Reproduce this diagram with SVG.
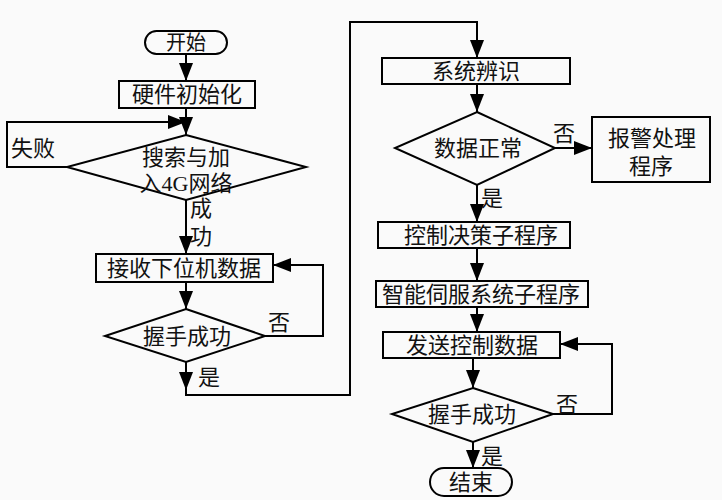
<svg xmlns="http://www.w3.org/2000/svg" width="722" height="500" viewBox="0 0 722 500">
<defs>
<style>
.s{fill:none;stroke:#000;stroke-width:2}
.b{fill:#fafafa;stroke:#000;stroke-width:2}
.t{font-family:"Liberation Serif","Noto Sans CJK SC",serif;font-size:22px;fill:#111;text-anchor:middle;dominant-baseline:central}
.c{stroke:#000;stroke-width:2;fill:none;marker-end:url(#arr)}
</style>
<marker id="arr" viewBox="0 0 18 14" refX="18" refY="7" markerWidth="18" markerHeight="14" orient="auto" markerUnits="userSpaceOnUse"><path d="M0,0 L18,7 L0,14 z" fill="#000"/></marker>
</defs>
<rect width="722" height="500" fill="#fafafa"/>
<g id="connectors">
<path class="c" d="M186,53 V81"/>
<path class="c" d="M186,108 V135"/>
<path class="c" d="M67,167 H7 V122 H186"/>
<path class="c" d="M186,200 V254"/>
<path class="c" d="M186,282 V309"/>
<path class="c" d="M265,336 H323 V265 H273"/>
<path class="c" d="M186,362 V390"/>
<path class="c" d="M186,388 V395 H350 V22 H477 V58"/>
<path class="c" d="M477,84 V112"/>
<path class="c" d="M555,148 H592"/>
<path class="c" d="M477,185 V222"/>
<path class="c" d="M477,248 V281"/>
<path class="c" d="M477,307 V332"/>
<path class="c" d="M473,358 V388"/>
<path class="c" d="M553,414 H612 V344 H560"/>
<path class="c" d="M473,442 V468"/>
</g>
<g id="start"><rect class="b" x="145" y="31" width="82" height="23" rx="11.5"/><text class="t" x="186" y="42.5" style="font-size:20px">开始</text></g>
<g id="init"><rect class="b" x="119" y="81" width="136" height="27"/><text class="t" x="187" y="94.5">硬件初始化</text></g>
<g id="search"><path class="b" d="M186,135 L306,167 L186,200 L67,167 Z"/><text class="t" x="186" y="157">搜索与加</text><text class="t" x="186" y="183">入4G网络</text></g>
<g id="lbl-fail"><text class="t" x="33" y="148">失败</text></g>
<g id="lbl-succ"><text class="t" x="201" y="208">成</text><text class="t" x="201" y="236">功</text></g>
<g id="recv"><rect class="b" x="96" y="254" width="177" height="28"/><text class="t" x="184" y="268">接收下位机数据</text></g>
<g id="hs1"><path class="b" d="M186,309 L265,336 L186,362 L105,336 Z"/><text class="t" x="187" y="336">握手成功</text></g>
<g id="lbl-no1"><text class="t" x="279" y="322">否</text></g>
<g id="lbl-yes1"><text class="t" x="209" y="377">是</text></g>
<g id="ident"><rect class="b" x="382" y="58" width="188" height="26"/><text class="t" x="476" y="71">系统辨识</text></g>
<g id="dataok"><path class="b" d="M477,112 L555,148 L477,185 L395,148 Z"/><text class="t" x="478" y="148">数据正常</text></g>
<g id="lbl-no2"><text class="t" x="564" y="133">否</text></g>
<g id="alarm"><rect class="b" x="592" y="117" width="118" height="65"/><text class="t" x="652" y="138">报警处理</text><text class="t" x="651" y="166">程序</text></g>
<g id="lbl-yes2"><text class="t" x="492" y="198">是</text></g>
<g id="ctrl"><rect class="b" x="378" y="222" width="192" height="26"/><text class="t" x="481" y="235">控制决策子程序</text></g>
<g id="servo"><rect class="b" x="376" y="281" width="212" height="26"/><text class="t" x="481" y="294">智能伺服系统子程序</text></g>
<g id="send"><rect class="b" x="383" y="332" width="177" height="26"/><text class="t" x="472" y="345">发送控制数据</text></g>
<g id="hs2"><path class="b" d="M473,388 L553,414 L473,442 L392,414 Z"/><text class="t" x="472" y="414">握手成功</text></g>
<g id="lbl-no3"><text class="t" x="567" y="404">否</text></g>
<g id="lbl-yes3"><text class="t" x="492" y="456">是</text></g>
<g id="end"><rect class="b" x="430" y="468" width="82" height="28" rx="14"/><text class="t" x="471" y="482">结束</text></g>
</svg>
